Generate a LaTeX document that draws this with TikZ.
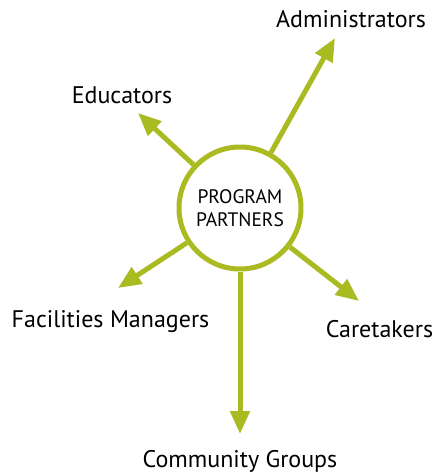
\documentclass[tikz,border=0pt]{standalone}
\usepackage{fontspec}
\setmainfont{PT Sans}
\usepackage{xcolor}
\usepackage{tikz}
\usetikzlibrary{arrows.meta,positioning}
\definecolor{olive}{HTML}{AABB22}

\begin{document}
\begin{tikzpicture}[
  x=1pt, y=-1pt,
  hub/.style={circle, draw=olive, line width=5pt, minimum size=122pt, font=\fontsize{19.5}{23}\selectfont, align=center, inner sep=0pt},
  partner/.style={anchor=base, font=\fontsize{24}{26}\selectfont, inner sep=0pt},
  link/.style={-{Triangle[length=23pt,width=19pt]}, olive, line width=5pt}
]
\useasboundingbox (0,0) rectangle (438,474);

% Centre
\node[hub] (prog) at (240,208) {PROGRAM\\PARTNERS};

% Partners
\node[partner] (admin) at (351,27) {Administrators};
\node[partner] (edu) at (122,103) {Educators};
\node[partner] (fac) at (110.5,327) {Facilities Managers};
\node[partner] (care) at (379.5,337) {Caretakers};
\node[partner] (comm) at (240,467) {Community Groups};

% Arrow tips
\coordinate (adminTip) at (335,38);
\coordinate (eduTip) at (138,113);
\coordinate (facTip) at (118,288);
\coordinate (careTip) at (359,301);
\coordinate (commTip) at (240,434);

% Arrows
\draw[link] (prog) -- (adminTip);
\draw[link] (prog) -- (eduTip);
\draw[link] (prog) -- (facTip);
\draw[link] (prog) -- (careTip);
\draw[link] (prog) -- (commTip);

\end{tikzpicture}
\end{document}
